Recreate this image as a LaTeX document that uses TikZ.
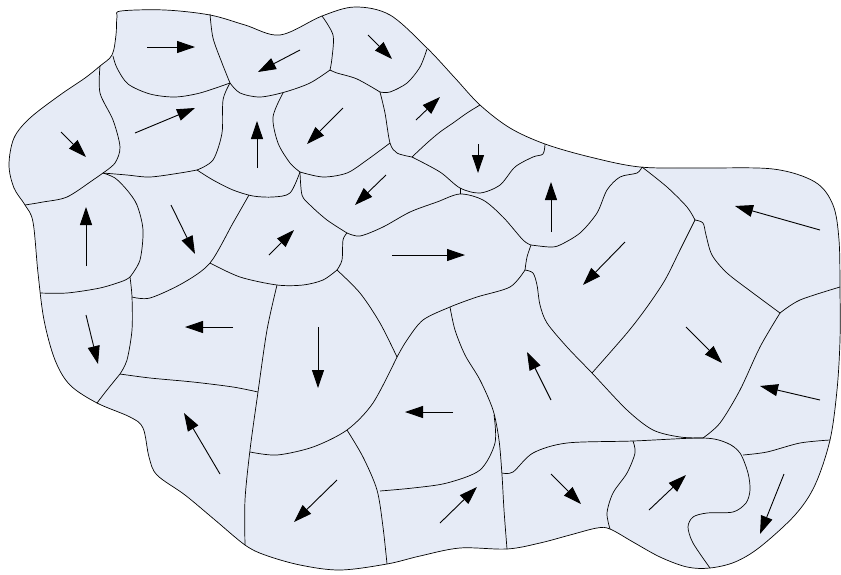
\documentclass[tikz,border=0pt]{standalone}
\usetikzlibrary{arrows.meta}
\definecolor{landfill}{RGB}{230,235,246}
\begin{document}
\begin{tikzpicture}[x=1pt,y=-1pt,
  border/.style={draw=black,line width=0.7pt,line join=round},
  flow/.style={draw=black,line width=0.9pt,-{Triangle[length=18pt,width=12pt]}}]
\useasboundingbox (0,0) rectangle (841,574);
% outline
\path[border,fill=landfill] plot[smooth cycle,tension=0.55] coordinates {
(121,11) (165,10) (210,15) (245,25) (280,35) (322,16) (355,7) (390,15) (427,48)
(455,78) (480,105) (510,128) (545,144) (590,157) (640,167) (700,168) (773,169)
(815,182) (833,205) (839,240) (840,290) (840,340) (837,390) (830,440) (815,485)
(795,515) (760,547) (735,562) (710,568) (687,567) (660,557) (633,542) (610,529)
(597,528) (570,535) (540,543) (507,549) (460,548) (420,556) (387,564) (340,570)
(300,565) (265,555) (245,545) (215,520) (185,495) (157,475) (149,457) (143,428)
(130,417) (97,403) (70,385) (55,360) (44,320) (38,273) (33,222) (25,205) (14,188)
(9,165) (14,138) (30,118) (60,95) (85,78) (100,66) (112,55) (116,35) (117,17)};
% internal borders
\draw[border] plot[smooth] coordinates {(113,56) (117,68) (128,84) (150,94) (175,97) (200,93) (230,83)};
\draw[border] plot[smooth] coordinates {(210,14) (213,38) (222,63) (230,83)};
\draw[border] plot[smooth] coordinates {(230,83) (240,93) (260,97) (285,92) (310,83) (330,70)};
\draw[border] plot[smooth] coordinates {(322,16) (333,35) (332,58) (330,70)};
\draw[border] plot[smooth] coordinates {(330,70) (337,73) (357,79) (380,92)};
\draw[border] plot[smooth] coordinates {(427,49) (420,67) (407,83) (390,92) (380,92)};
\draw[border] plot[smooth] coordinates {(380,92) (385,113) (390,143) (397,153) (412,157)};
\draw[border] plot[smooth] coordinates {(480,105) (467,113) (453,123) (440,132) (427,143) (412,157)};
\draw[border] plot[smooth] coordinates {(412,157) (440,172) (460,188) (480,193) (500,185) (515,167) (533,157) (543,154) (545,144)};
\draw[border] (460,188) -- (460,194);
\draw[border] plot[smooth] coordinates {(100,66) (100,93) (113,120) (120,147) (115,163) (103,173)};
\draw[border] plot[smooth] coordinates {(103,173) (127,175) (150,177) (180,173) (197,170)};
\draw[border] plot[smooth] coordinates {(230,83) (223,100) (222,133) (213,160) (197,170)};
\draw[border] plot[smooth] coordinates {(197,170) (213,180) (233,190) (253,196) (273,197) (290,193) (300,172)};
\draw[border] plot[smooth] coordinates {(283,93) (273,117) (278,143) (290,163) (300,172)};
\draw[border] plot[smooth] coordinates {(300,172) (323,177) (347,173) (367,160) (390,143)};
\draw[border] plot[smooth] coordinates {(25,205) (43,202) (67,197) (93,180) (103,173)};
\draw[border] plot[smooth] coordinates {(103,173) (115,178) (127,190) (137,205) (143,230) (140,260) (130,277)};
\draw[border] plot[smooth] coordinates {(40,293) (67,293) (100,288) (123,281) (130,277)};
\draw[border] plot[smooth] coordinates {(132,297) (150,298) (183,283) (210,263) (233,223) (249,195)};
\draw[border] plot[smooth] coordinates {(130,277) (132,297) (132,330) (127,360) (120,374)};
\draw[border] plot[smooth] coordinates {(120,374) (107,390) (97,403)};
\draw[border] plot[smooth] coordinates {(300,172) (302,195) (310,205) (327,220) (347,233)};
\draw[border] plot[smooth] coordinates {(347,233) (360,236) (383,227) (410,212) (437,202) (460,194) (483,200) (503,217) (523,240) (531,245)};
\draw[border] plot[smooth] coordinates {(531,245) (550,247) (560,245) (580,233) (597,213) (607,190) (620,177) (637,173) (642,167)};
\draw[border] plot[smooth] coordinates {(531,245) (527,257) (525,270)};
\draw[border] plot[smooth] coordinates {(347,233) (343,240) (342,260) (337,270)};
\draw[border] plot[smooth] coordinates {(210,263) (240,277) (277,285) (303,285) (323,280) (337,270)};
\draw[border] plot[smooth] coordinates {(277,285) (267,330) (258,392) (250,450) (245,500) (245,545)};
\draw[border] plot[smooth] coordinates {(120,374) (150,378) (193,382) (233,387) (258,392)};
\draw[border] plot[smooth] coordinates {(337,270) (360,293) (380,323) (397,357)};
\draw[border] plot[smooth] coordinates {(525,270) (510,287) (477,297) (450,307) (423,320) (407,340) (397,357)};
\draw[border] plot[smooth] coordinates {(397,357) (373,403) (347,430) (313,447) (277,455) (250,452)};
\draw[border] plot[smooth] coordinates {(347,430) (363,457) (377,490) (383,527) (387,564)};
\draw[border] plot[smooth] coordinates {(450,307) (455,330) (465,355) (480,380) (493,410) (499,440) (502,475) (504,510) (507,549)};
\draw[border] plot[smooth] coordinates {(494,415) (495,443) (480,470) (447,483) (413,488) (380,491)};
\draw[border] plot[smooth] coordinates {(525,270) (533,273) (537,285) (540,305) (547,323) (567,347) (592,373) (627,410) (653,430) (680,437) (703,438)};
\draw[border] plot[smooth] coordinates {(502,473) (513,472) (533,453) (567,443) (633,441) (703,438) (727,443) (740,453) (748,473) (750,490) (746,503) (733,512) (707,513) (693,517) (688,527) (693,543) (710,568)};
\draw[border] plot[smooth] coordinates {(642,167) (667,187) (687,207) (695,220)};
\draw[border] plot[smooth] coordinates {(695,220) (680,250) (665,280) (647,307) (627,333) (592,373)};
\draw[border] plot[smooth] coordinates {(695,220) (703,223) (706,235) (712,255) (727,273) (753,293) (780,313)};
\draw[border] plot[smooth] coordinates {(780,313) (800,300) (840,287)};
\draw[border] plot[smooth] coordinates {(780,313) (760,347) (740,390) (720,423) (703,438)};
\draw[border] plot[smooth] coordinates {(743,455) (767,452) (800,443) (830,440)};
\draw[border] plot[smooth] coordinates {(633,441) (635,453) (627,473) (613,493) (607,513) (610,529)};
% arrows
\draw[flow] (147,47) -- (195,47);
\draw[flow] (300,50) -- (258,72);
\draw[flow] (368,35) -- (392,59);
\draw[flow] (135,133) -- (195,108);
\draw[flow] (61,132) -- (86,157);
\draw[flow] (257,168) -- (257,121);
\draw[flow] (343,108) -- (307,144);
\draw[flow] (416,120) -- (440,97);
\draw[flow] (478,144) -- (478,173);
\draw[flow] (551,232) -- (551,182);
\draw[flow] (386,175) -- (355,205);
\draw[flow] (625,242) -- (583,285);
\draw[flow] (820,230) -- (735,206);
\draw[flow] (86,266) -- (86,207);
\draw[flow] (171,205) -- (195,254);
\draw[flow] (269,255) -- (294,230);
\draw[flow] (392,255) -- (465,255);
\draw[flow] (233,327) -- (185,327);
\draw[flow] (86,315) -- (98,364);
\draw[flow] (318,327) -- (318,388);
\draw[flow] (453,412) -- (405,412);
\draw[flow] (220,474) -- (184,413);
\draw[flow] (337,480) -- (294,522);
\draw[flow] (440,523) -- (477,487);
\draw[flow] (551,400) -- (527,352);
\draw[flow] (686,327) -- (722,363);
\draw[flow] (820,400) -- (760,386);
\draw[flow] (551,474) -- (581,504);
\draw[flow] (649,510) -- (686,475);
\draw[flow] (784,474) -- (760,534);
\end{tikzpicture}
\end{document}
